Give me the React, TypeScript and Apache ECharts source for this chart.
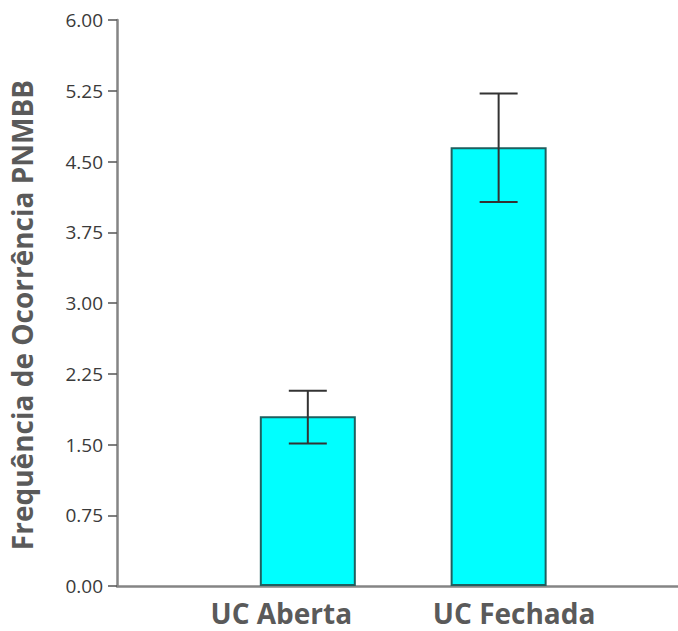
import React, { useEffect, useRef } from "react";
import * as echarts from "echarts";

const categories = ["UC Aberta", "UC Fechada"];
const categoryPositions = [1, 2];
const means = [1.8, 4.65];
const errLow = [1.51, 4.07];
const errHigh = [2.07, 5.22];
const yTicks = [0, 0.75, 1.5, 2.25, 3, 3.75, 4.5, 5.25, 6];

export default function App() {
  const ref = useRef<HTMLDivElement>(null);
  useEffect(() => {
    if (!ref.current) return;
    const chart = echarts.init(ref.current, null, { renderer: "svg" });
    const font = "'Open Sans', 'Noto Sans', sans-serif";
    chart.setOption({
      animation: false,
      grid: { left: 117, top: 20, right: 0, bottom: 45, containLabel: false, outerBoundsMode: "none" },
      xAxis: {
        type: "value",
        min: 0,
        max: 2.94,
        axisLine: { show: true, onZero: false, lineStyle: { color: "#858585", width: 2.5 } },
        axisTick: { show: false },
        splitLine: { show: false },
        axisLabel: {
          customValues: categoryPositions,
          margin: 13,
          formatter: (v: number) => {
            const i = categoryPositions.indexOf(v);
            if (i < 0) return "";
            return i === 0 ? `{a|${categories[i]}}` : `{b|${categories[i]}}`;
          },
          rich: {
            a: { fontFamily: font, fontWeight: "bold", fontSize: 28, color: "#5a5a5a", padding: [0, 53, 0, 0] },
            b: { fontFamily: font, fontWeight: "bold", fontSize: 28, color: "#5a5a5a", padding: [0, 0, 0, 31] },
          },
        },
      },
      yAxis: {
        type: "value",
        min: yTicks[0],
        max: yTicks[yTicks.length - 1],
        interval: 0.75,
        name: "Frequência de Ocorrência PNMBB",
        nameLocation: "middle",
        nameGap: 81,
        nameTextStyle: {
          fontFamily: font,
          fontWeight: "bold",
          fontSize: 28,
          color: "#5a5a5a",
          padding: [0, 24, 0, 0],
        },
        axisLine: { show: true, lineStyle: { color: "#858585", width: 2.5 } },
        axisTick: { show: true, length: 9, lineStyle: { color: "#555", width: 1.5 } },
        splitLine: { show: false },
        axisLabel: {
          margin: 14,
          fontFamily: font,
          fontSize: 19,
          color: "#3a3a3a",
          formatter: (v: number) => v.toFixed(2),
        },
      },
      series: [
        {
          type: "bar",
          barWidth: 96,
          data: categoryPositions.map((x, i) => [x, means[i]]),
          itemStyle: { color: "#00ffff", borderColor: "#1f5f5f", borderWidth: 2 },
        },
        {
          type: "custom",
          data: categoryPositions.map((x, i) => [x, errLow[i], errHigh[i]]),
          encode: { x: 0, y: [1, 2] },
          renderItem: (params: any, api: any) => {
            const x = api.value(0);
            const lo = api.coord([x, api.value(1)]);
            const hi = api.coord([x, api.value(2)]);
            const hw = 19;
            const style = { stroke: "#333", lineWidth: 2 };
            return {
              type: "group",
              children: [
                { type: "line", shape: { x1: lo[0], y1: lo[1], x2: hi[0], y2: hi[1] }, style },
                { type: "line", shape: { x1: hi[0] - hw, y1: hi[1], x2: hi[0] + hw, y2: hi[1] }, style },
                { type: "line", shape: { x1: lo[0] - hw, y1: lo[1], x2: lo[0] + hw, y2: lo[1] }, style },
              ],
            };
          },
          z: 5,
        },
      ],
    });
    return () => chart.dispose();
  }, []);
  return <div ref={ref} style={{ width: 678, height: 631, position: "absolute", left: 0, top: 0 }} />;
}
